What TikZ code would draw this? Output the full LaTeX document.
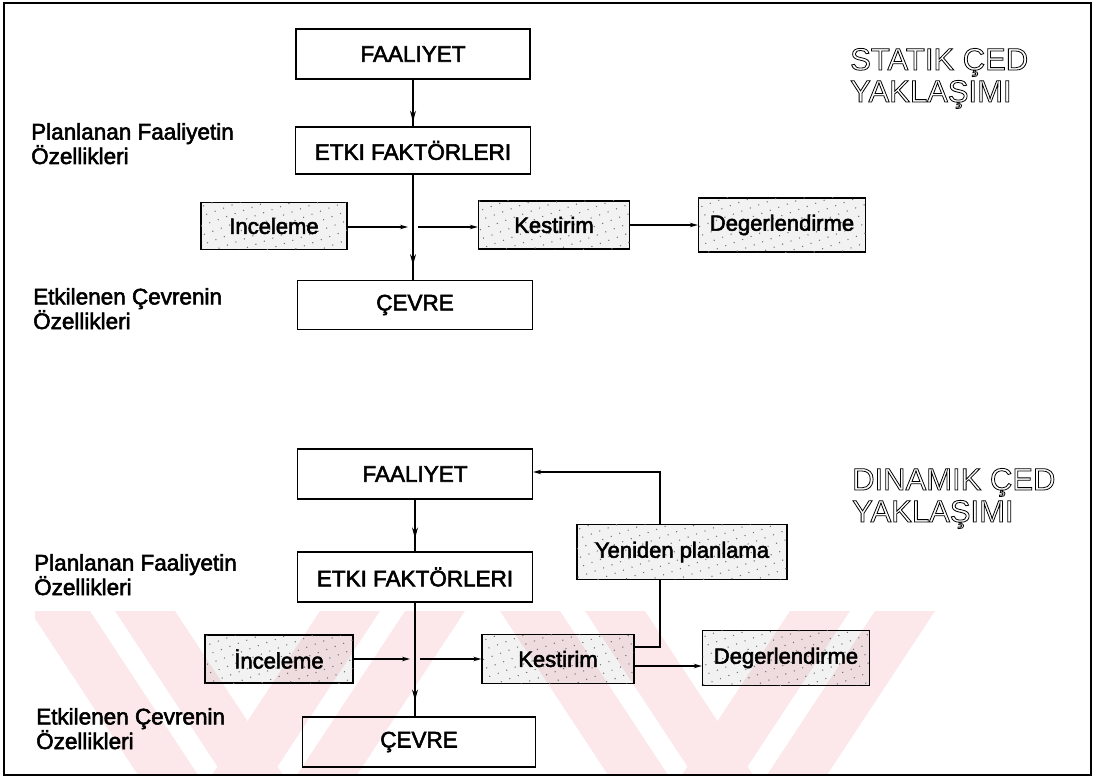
\documentclass[tikz,border=0pt]{standalone}
\usepackage{fontspec}
\setmainfont{Liberation Sans}
\usetikzlibrary{arrows.meta,decorations.markings,patterns.meta}
\definecolor{wm}{RGB}{252,232,234}
\newcommand{\outl}[1]{\special{pdf:literal direct 1 Tr 0.8 w}#1\special{pdf:literal direct 0 Tr}}
\tikzset{
  heavy/.style={execute at begin node={\special{pdf:literal direct 2 Tr 0.55 w}},
                execute at end node={\special{pdf:literal direct 0 Tr}}},
  plainbox/.style={heavy,draw=black,line width=1.3pt,inner sep=0pt,align=center,font=\fontsize{22.5}{22}\selectfont},
  dotbox/.style={plainbox,font=\fontsize{22}{22}\selectfont,fill=black,fill opacity=0.05,text opacity=1,
     postaction={fill opacity=1,pattern={Dots[distance=9pt,radius=0.75pt,angle=20]},pattern color=black!55}},
  conn/.style={line width=1.4pt},
  harr/.style={conn,-{Stealth[length=8pt,width=4.5pt]}},
  varr/.style={conn,decoration={markings,mark=at position #1 with {\arrow{Stealth[open,length=11pt,width=6pt,line width=1pt]}}},postaction={decorate}},
  sidelabel/.style={heavy,anchor=base west,inner sep=0pt,align=left,font=\fontsize{22.5}{22}\selectfont},
  titlelabel/.style={anchor=base west,inner sep=0pt,align=left,font=\fontsize{31}{32}\selectfont}
}
\begin{document}
\begin{tikzpicture}[x=1pt,y=-1pt]
\useasboundingbox (0,0) rectangle (1097,778);
% watermark
\begin{scope}
\clip (35,611) rectangle (955,775);
\foreach \a in {30,115,500,585}{
  \fill[wm] (\a,611) -- (\a+60,611) -- (\a+168,775) -- (\a+108,775) -- cycle;}
\foreach \a in {320,405,790,875}{
  \fill[wm] (\a,611) -- (\a+60,611) -- (\a-48,775) -- (\a-108,775) -- cycle;}
\end{scope}
% frame
\draw[line width=2.6pt] (4,3) rectangle (1091,775);

% ---------- STATIC ----------
\node[plainbox,minimum width=234pt,minimum height=50pt] (fa1) at (413,54) {FAALIYET};
\node[plainbox,minimum width=235pt,minimum height=47pt] (ek1) at (413,150.5) {ETKI FAKTÖRLERI};
\node[dotbox,minimum width=146pt,minimum height=47pt] (in1) at (274,226) {Inceleme};
\node[dotbox,minimum width=151pt,minimum height=48pt] (ke1) at (554,225) {Kestirim};
\node[dotbox,minimum width=167pt,minimum height=54pt] (de1) at (782,225) {Degerlendirme};
\node[plainbox,minimum width=235pt,minimum height=49pt] (ce1) at (415,305) {ÇEVRE};
\coordinate (j1) at (413,227);
\draw[varr=0.9] (fa1.south) -- (ek1.north);
\draw[varr=0.86] (ek1.south) -- (ek1.south |- ce1.north);
\draw[harr] (in1.east |- j1) -- ([xshift=-5pt]j1);
\draw[harr] ([xshift=5pt]j1) -- (ke1.west |- j1);
\draw[harr] (ke1.east) -- (de1.west);
\node[sidelabel] (pl1) at (31,164) {Planlanan Faaliyetin\\Özellikleri};
\node[sidelabel] (et1) at (33,329) {Etkilenen Çevrenin\\Özellikleri};
\node[titlelabel] (t1) at (850,102) {\outl{STATIK ÇED}\\\outl{YAKLAŞIMI}};

% ---------- DYNAMIC ----------
\node[plainbox,minimum width=235pt,minimum height=50pt] (fa2) at (415,474) {FAALIYET};
\node[plainbox,minimum width=235pt,minimum height=50pt] (ek2) at (415,577) {ETKI FAKTÖRLERI};
\node[dotbox,minimum width=148pt,minimum height=48pt] (in2) at (279,659) {İnceleme};
\node[dotbox,minimum width=152pt,minimum height=49pt] (ke2) at (558,659) {Kestirim};
\node[dotbox,minimum width=167pt,minimum height=55pt] (de2) at (786,658) {Degerlendirme};
\node[plainbox,minimum width=233pt,minimum height=50pt] (ce2) at (419,742) {ÇEVRE};
\node[dotbox,minimum width=210pt,minimum height=55pt] (ye2) at (682,552) {Yeniden planlama};
\coordinate (j2) at (415,659);
\coordinate (fb) at (660,647);
\draw[varr=0.75] (fa2.south) -- (fa2.south |- ek2.north);
\draw[varr=0.86] (ek2.south) -- (ek2.south |- ce2.north);
\draw[harr] (in2.east |- j2) -- ([xshift=-5pt]j2);
\draw[harr] ([xshift=5pt]j2) -- (ke2.west |- j2);
\draw[harr] (ke2.east |- 0,666) -- (de2.west |- 0,666);
\draw[conn] (ke2.east |- fb) -- (fb) -- (fb |- ye2.south);
\draw[harr] (fb |- ye2.north) -- (660,472) -- (fa2.east |- 0,472);
\node[sidelabel] (pl2) at (34,595) {Planlanan Faaliyetin\\Özellikleri};
\node[sidelabel] (et2) at (36,749) {Etkilenen Çevrenin\\Özellikleri};
\node[titlelabel] (t2) at (852,522) {\outl{DINAMIK ÇED}\\\outl{YAKLAŞIMI}};
\end{tikzpicture}
\end{document}
